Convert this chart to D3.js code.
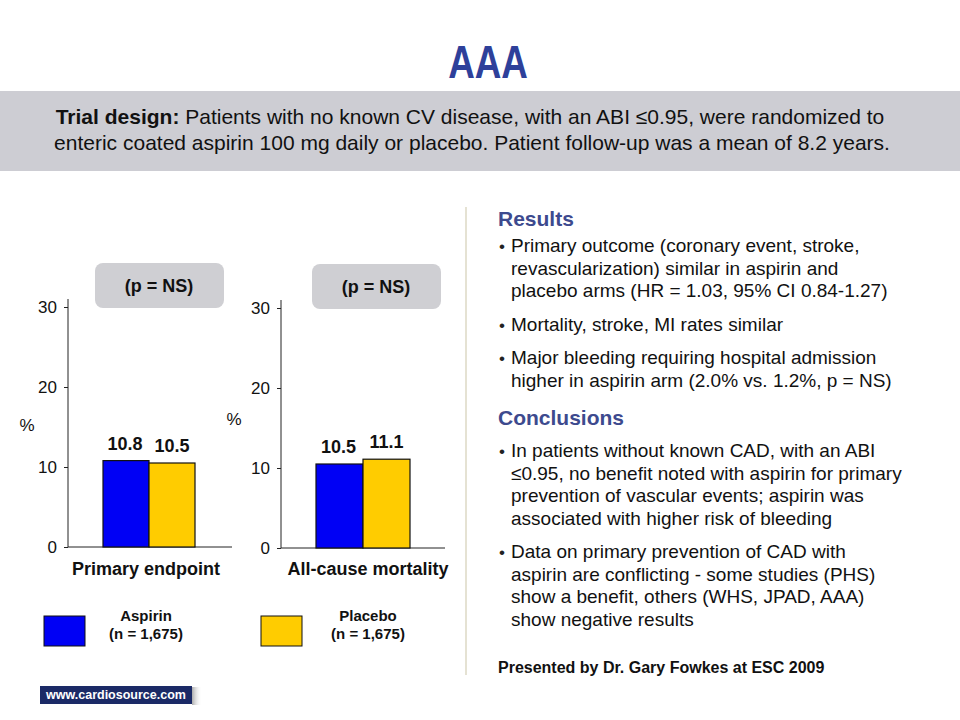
<!DOCTYPE html>
<html>
<head>
<meta charset="utf-8">
<script src="https://cdn.jsdelivr.net/npm/d3@7"></script>
<style>
  body { margin: 0; background: #fff; }
  text { font-family: "Liberation Sans", Arial, sans-serif; }
</style>
</head>
<body>
<svg id="chart" width="960" height="720"></svg>
<script>
/* ------------ Data ----------------*/
const panels = ['Primary endpoint', 'All-cause mortality'];
const groups = ['Aspirin', 'Placebo'];
const aspirin = [10.8, 10.5];
const placebo = [10.5, 11.1];
const yTicks = [0, 10, 20, 30];
const pLabels = ['(p = NS)', '(p = NS)'];
const groupN = ['(n = 1,675)', '(n = 1,675)'];
const colors = ['#0000f5', '#ffcc00'];

/* ------------ Layout ----------------*/
const svg = d3.select('#chart');
const panelLayout = [
  { axisX: 68, axisEnd: 232, y0: 547, y30: 307, barL: 103, barR: 195, pctX: 27, pctY: 431, box: [95, 263], labelX: 146 },
  { axisX: 281, axisEnd: 445, y0: 548, y30: 308, barL: 316, barR: 410, pctX: 234, pctY: 425, box: [312, 264], labelX: 368 }
];

/* ------------ Header ----------------*/
svg.append('text')
  .attr('x', 0).attr('y', 0)
  .attr('transform', 'translate(488,78) scale(0.8,1)')
  .attr('text-anchor', 'middle')
  .attr('font-size', '46px').attr('font-weight', 'bold')
  .attr('fill', '#2e409a')
  .text('AAA');

svg.append('rect')
  .attr('x', 0).attr('y', 91).attr('width', 960).attr('height', 80)
  .attr('fill', '#cdcdd3');

const design = svg.append('text')
  .attr('text-anchor', 'middle')
  .attr('font-size', '21px').attr('fill', '#111');
const l1 = design.append('tspan').attr('x', 470).attr('y', 124);
l1.append('tspan').attr('font-weight', 'bold').text('Trial design: ');
l1.append('tspan').text('Patients with no known CV disease, with an ABI \u22640.95, were randomized to');
design.append('tspan').attr('x', 472).attr('y', 150)
  .text('enteric coated aspirin 100 mg daily or placebo. Patient follow-up was a mean of 8.2 years.');

/* ------------ Bar panels ----------------*/
panels.forEach((name, i) => {
  const L = panelLayout[i];
  const g = svg.append('g');
  const y = d3.scaleLinear().domain([0, 30]).range([L.y0, L.y30]);
  const x = d3.scaleBand().domain(groups).range([L.barL, L.barR]).padding(0);
  const vals = [aspirin[i], placebo[i]];

  // p-value box
  g.append('rect')
    .attr('x', L.box[0]).attr('y', L.box[1])
    .attr('width', 129).attr('height', 45)
    .attr('rx', 8).attr('fill', '#cfcfd3');
  g.append('text')
    .attr('x', L.box[0] + 64).attr('y', L.box[1] + 29)
    .attr('text-anchor', 'middle')
    .attr('font-size', '18px').attr('font-weight', 'bold').attr('fill', '#111')
    .text(pLabels[i]);

  // y axis
  const axis = d3.axisLeft(y).tickValues(yTicks).tickSize(4).tickPadding(7);
  const ag = g.append('g').attr('transform', `translate(${L.axisX},0)`).call(axis);
  ag.select('.domain').attr('stroke', '#222').attr('d', `M-0,${L.y30 - 8}V${L.y0}`);
  ag.selectAll('.tick line').attr('stroke', '#222');
  ag.selectAll('.tick text')
    .attr('font-size', '17px').attr('fill', '#111')
    .style('font-family', '"Liberation Sans", Arial, sans-serif');

  // baseline
  g.append('line')
    .attr('x1', L.axisX).attr('x2', L.axisEnd)
    .attr('y1', y(0)).attr('y2', y(0))
    .attr('stroke', '#222');

  // bars
  g.selectAll('rect.bar')
    .data(vals)
    .join('rect')
    .attr('class', 'bar')
    .attr('x', (d, j) => x(groups[j]))
    .attr('y', d => y(d))
    .attr('width', x.bandwidth())
    .attr('height', d => y(0) - y(d))
    .attr('fill', (d, j) => colors[j])
    .attr('stroke', '#111').attr('stroke-width', 1.2);

  // value labels
  g.selectAll('text.val')
    .data(vals)
    .join('text')
    .attr('class', 'val')
    .attr('x', (d, j) => x(groups[j]) + x.bandwidth() / 2 + (j === 0 ? -1 : 0))
    .attr('y', d => y(d) - 11)
    .attr('text-anchor', 'middle')
    .attr('font-size', '18px').attr('font-weight', 'bold').attr('fill', '#111')
    .text(d => d3.format('.1f')(d));

  // category label
  g.append('text')
    .attr('x', L.labelX).attr('y', 575)
    .attr('text-anchor', 'middle')
    .attr('font-size', '18px').attr('font-weight', 'bold').attr('fill', '#111')
    .text(name);

  // % label
  g.append('text')
    .attr('x', L.pctX).attr('y', L.pctY)
    .attr('text-anchor', 'middle')
    .attr('font-size', '17px').attr('fill', '#111')
    .text('%');
});

/* ------------ Legend ----------------*/
const legendX = [[44, 146], [261, 368]];
groups.forEach((grp, j) => {
  svg.append('rect')
    .attr('x', legendX[j][0]).attr('y', 616)
    .attr('width', 41).attr('height', 30)
    .attr('fill', colors[j]).attr('stroke', '#111');
  const t = svg.append('text')
    .attr('text-anchor', 'middle')
    .attr('font-size', '15px').attr('font-weight', 'bold').attr('fill', '#111');
  t.append('tspan').attr('x', legendX[j][1]).attr('y', 621).text(grp);
  t.append('tspan').attr('x', legendX[j][1]).attr('y', 639).text(groupN[j]);
});

/* ------------ Footer ----------------*/
const defs = svg.append('defs');
const grad = defs.append('linearGradient').attr('id', 'shade');
grad.append('stop').attr('offset', '0%').attr('stop-color', '#888').attr('stop-opacity', 0.7);
grad.append('stop').attr('offset', '100%').attr('stop-color', '#fff').attr('stop-opacity', 0);
svg.append('rect')
  .attr('x', 192).attr('y', 687).attr('width', 10).attr('height', 18)
  .attr('fill', 'url(#shade)');
svg.append('rect')
  .attr('x', 40).attr('y', 686).attr('width', 152).attr('height', 18)
  .attr('fill', '#1b2a66');
svg.append('text')
  .attr('x', 116).attr('y', 699)
  .attr('text-anchor', 'middle')
  .attr('font-size', '12.5px').attr('font-weight', 'bold').attr('fill', '#fff')
  .text('www.cardiosource.com');

/* ------------ Divider ----------------*/
svg.append('line')
  .attr('x1', 466).attr('x2', 466).attr('y1', 207).attr('y2', 675)
  .attr('stroke', '#ddd8c4').attr('stroke-width', 1.5);

/* ------------ Right column text ----------------*/
const heading = (txt, yy) => svg.append('text')
  .attr('x', 498).attr('y', yy)
  .attr('font-size', '21px').attr('font-weight', 'bold').attr('fill', '#3d4a8e')
  .text(txt);

const bullet = (lines, yy) => {
  svg.append('text')
    .attr('x', 499).attr('y', yy)
    .attr('font-size', '17px').attr('fill', '#222')
    .text('\u2022');
  const t = svg.append('text').attr('font-size', '19px').attr('fill', '#111');
  lines.forEach((ln, k) => {
    t.append('tspan').attr('x', 511).attr('y', yy + k * 22.5).text(ln);
  });
};

heading('Results', 226);
bullet(['Primary outcome (coronary event, stroke,',
        'revascularization) similar in aspirin and',
        'placebo arms (HR = 1.03, 95% CI 0.84-1.27)'], 252);
bullet(['Mortality, stroke, MI rates similar'], 331);
bullet(['Major bleeding requiring hospital admission',
        'higher in aspirin arm (2.0% vs. 1.2%, p = NS)'], 364);

heading('Conclusions', 425);
bullet(['In patients without known CAD, with an ABI',
        '\u22640.95, no benefit noted with aspirin for primary',
        'prevention of vascular events; aspirin was',
        'associated with higher risk of bleeding'], 457);
bullet(['Data on primary prevention of CAD with',
        'aspirin are conflicting - some studies (PHS)',
        'show a benefit, others (WHS, JPAD, AAA)',
        'show negative results'], 558);

svg.append('text')
  .attr('x', 498).attr('y', 673)
  .attr('font-size', '16px').attr('font-weight', 'bold').attr('fill', '#111')
  .text('Presented by Dr. Gary Fowkes at ESC 2009');
</script>
</body>
</html>
